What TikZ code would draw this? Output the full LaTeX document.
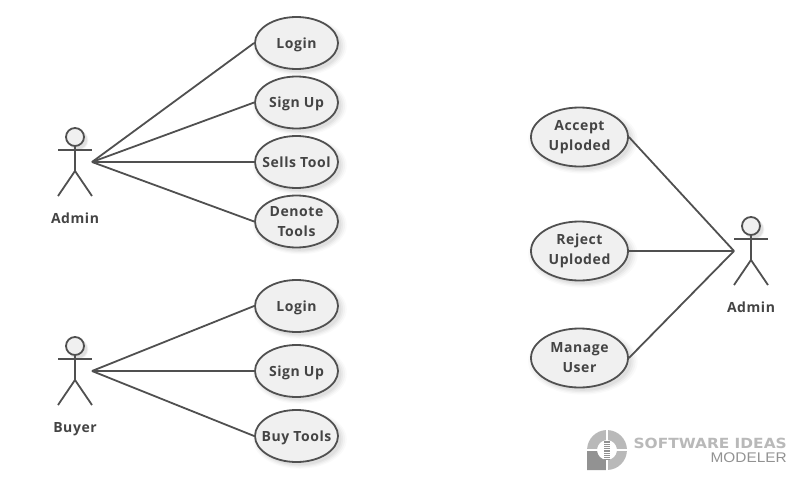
\documentclass[tikz,border=0pt]{standalone}
\usepackage{fontspec}
\setmainfont{Open Sans}[LetterSpace=4]
\newfontfamily\logofont{Liberation Sans}
\newfontfamily\logobold{DejaVu Sans}
\usetikzlibrary{shapes.geometric,shadows}
\definecolor{umlline}{HTML}{505050}
\definecolor{umlfill}{HTML}{F0F0F0}
\definecolor{umltext}{HTML}{444444}
\definecolor{logolight}{HTML}{B9B9B9}
\definecolor{logodark}{HTML}{929292}
\tikzset{
    softshadow/.style={
        general shadow={shadow xshift=3pt,shadow yshift=-3pt,shadow scale=1.13,fill=black,opacity=.018},
        general shadow={shadow xshift=3pt,shadow yshift=-3pt,shadow scale=1.09,fill=black,opacity=.026},
        general shadow={shadow xshift=3pt,shadow yshift=-3pt,shadow scale=1.05,fill=black,opacity=.034},
        general shadow={shadow xshift=3pt,shadow yshift=-3pt,shadow scale=1.01,fill=black,opacity=.045}},
    usecase/.style={ellipse,draw=umlline,line width=1.8pt,fill=umlfill,inner sep=0pt,inner xsep=-12pt,
        minimum width=83pt,minimum height=52pt,softshadow,text=umltext,align=center,
        font=\fontsize{14}{20}\selectfont\bfseries},
    usecaseone/.style={usecase,text depth=0pt},
    usecasewide/.style={usecase,minimum width=97pt,minimum height=59pt},
    actorname/.style={text=umltext,text depth=0pt,font=\fontsize{14}{20}\selectfont\bfseries},
    link/.style={draw=umlline,line width=1.8pt},
    logotext/.style={anchor=east,inner sep=0pt,xscale=1.1,text height=10pt,text depth=0pt},
    actor/.pic={
        \node[circle,draw=umlline,line width=1.8pt,fill=umlfill,minimum size=18pt,inner sep=0pt,softshadow] (-head) at (0,0) {};
        \coordinate (-hand) at (17,25);
        \coordinate (-hip) at (0,34);
        \draw[link] (-head) -- (-hip);
        \draw[link] (-17,13) -- (17,13);
        \draw[link] (-17,59) -- (-hip) -- (17,59);
    }
}
\begin{document}
\begin{tikzpicture}[x=1pt,y=-1pt]
    \useasboundingbox (0,0) rectangle (796,482);
    % left side, admin
    \pic (admin) at (75,137) {actor};
    \node[actorname] (adminname) at (75,218) {Admin};
    \node[usecaseone] (login) at (296.5,43) {Login};
    \node[usecaseone] (signup) at (296.5,102.5) {Sign Up};
    \node[usecaseone] (sells) at (296.5,162) {Sells Tool};
    \node[usecase] (denote) at (296.5,221.5) {Denote\\Tools};
    \draw[link] (admin-hand) -- (login.west);
    \draw[link] (admin-hand) -- (signup.west);
    \draw[link] (admin-hand) -- (sells.west);
    \draw[link] (admin-hand) -- (denote.west);
    % left side, buyer
    \pic (buyer) at (75,346) {actor};
    \node[actorname] (buyername) at (75,427) {Buyer};
    \node[usecaseone] (buyerlogin) at (296.5,306) {Login};
    \node[usecaseone] (buyersignup) at (296.5,371) {Sign Up};
    \node[usecaseone] (buytools) at (296.5,436) {Buy Tools};
    \draw[link] (buyer-hand) -- (buyerlogin.west);
    \draw[link] (buyer-hand) -- (buyersignup.west);
    \draw[link] (buyer-hand) -- (buytools.west);
    % right side
    \pic (manager) at (751,226) {actor};
    \node[actorname] (managername) at (751,307) {Admin};
    \coordinate (managerhand) at (734,251);
    \node[usecasewide] (accept) at (579.5,137) {Accept\\Uploded};
    \node[usecasewide] (reject) at (579.5,251) {Reject\\Uploded};
    \node[usecasewide] (manage) at (579.5,358) {Manage\\User};
    \draw[link] (accept.east) -- (managerhand);
    \draw[link] (reject.east) -- (managerhand);
    \draw[link] (manage.east) -- (managerhand);
    % logo
    \begin{scope}[shift={(607,450)},y=1pt]
        \foreach \a in {0,90,-90}
            \fill[logolight,rotate=\a] (1.2,19.9) arc (86.5:3.5:20) -- (9.9,1.2) arc (7:83:10) -- cycle;
        \fill[logodark] (-9.9,-1.2) -- (-20,-1.2) -- (-20,-20) -- (-1.2,-20) -- (-1.2,-9.9) arc (263:187:10) -- cycle;
        \draw[logodark,line width=6pt,dash pattern=on 1pt off .8pt] (0,-9.5) -- (0,9.5);
    \end{scope}
    \node[logotext,text=logolight,font=\logobold\fontsize{14}{16}\selectfont\bfseries] (logotop) at (787,443) {SOFTWARE IDEAS};
    \node[logotext,text=logodark,font=\logofont\fontsize{14}{16}\selectfont] (logobottom) at (787,457.5) {MODELER};
\end{tikzpicture}
\end{document}
